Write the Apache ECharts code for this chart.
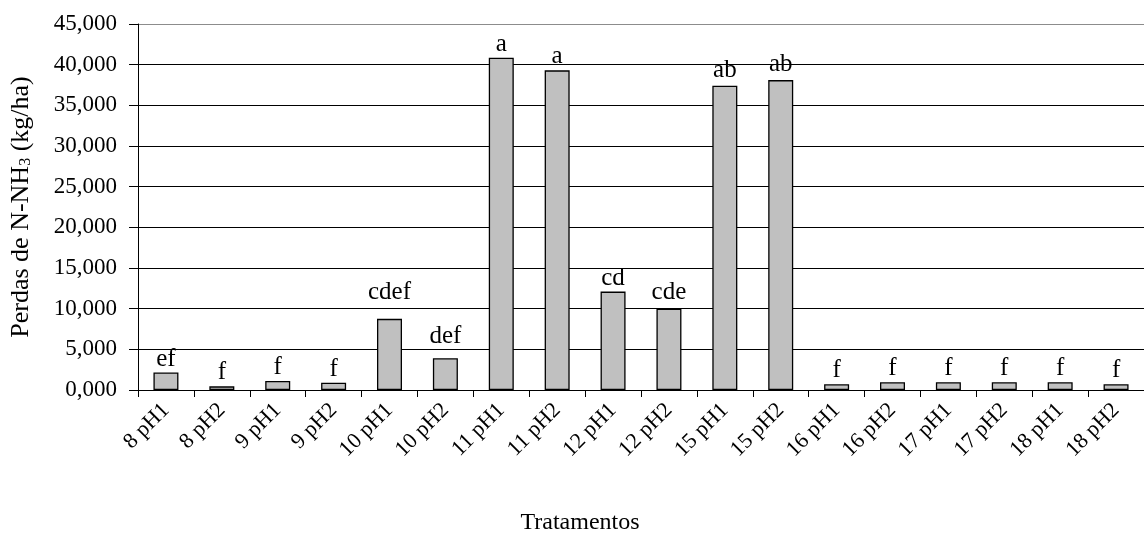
<!DOCTYPE html>
<html>
<head>
<meta charset="utf-8">
<script src="https://cdn.jsdelivr.net/npm/echarts@6/dist/echarts.min.js"></script>
<style>
html,body{margin:0;padding:0;background:#fff;}
#chart{width:1144px;height:534px;}
</style>
</head>
<body>
<div id="chart"></div>
<script>
// ---- data ----
const categories = ['8 pH1','8 pH2','9 pH1','9 pH2','10 pH1','10 pH2','11 pH1','11 pH2','12 pH1','12 pH2','15 pH1','15 pH2','16 pH1','16 pH2','17 pH1','17 pH2','18 pH1','18 pH2'];
const losses = [2.15, 0.45, 1.1, 0.9, 8.75, 3.9, 40.85, 39.3, 12.1, 10.0, 37.4, 38.1, 0.7, 0.95, 0.95, 0.95, 0.95, 0.7];
const letters = ['ef','f','f','f','cdef','def','a','a','cd','cde','ab','ab','f','f','f','f','f','f'];
const yTickLabels = ['0,000','5,000','10,000','15,000','20,000','25,000','30,000','35,000','40,000','45,000'];
const yAxisTitle = 'Perdas de N-NH';
const yAxisTitleSub = '3';
const yAxisTitleEnd = ' (kg/ha)';
const xAxisTitle = 'Tratamentos';

// ---- chart ----
const FONT = '"Liberation Serif", "Times New Roman", serif';
const labelDistance = {4: 14, 5: 9, 9: 4, 10: 3, 11: 3};
const gridColors = yTickLabels.map((_, i) => i === yTickLabels.length - 1 ? '#8c8c8c' : '#000');

const chart = echarts.init(document.getElementById('chart'), null, {renderer: 'canvas'});
chart.setOption({
  animation: false,
  backgroundColor: '#fff',
  textStyle: {fontFamily: FONT, color: '#000'},
  title: {
    text: xAxisTitle, left: 580, top: 511, textAlign: 'center', padding: 0,
    textStyle: {fontFamily: FONT, fontSize: 24, fontWeight: 'normal', color: '#000'}
  },
  grid: {left: 138, right: -6, top: 24, bottom: 144, containLabel: false},
  xAxis: {
    type: 'category',
    data: categories,
    axisLine: {lineStyle: {color: '#000', width: 1}},
    axisTick: {show: true, length: 7, lineStyle: {color: '#000'}, alignWithLabel: false},
    axisLabel: {rotate: 45, interval: 0, margin: 17, fontSize: 22, fontFamily: FONT, color: '#000'},
    splitLine: {show: false}
  },
  yAxis: {
    type: 'value',
    min: 0, max: 45, interval: 5,
    name: [yAxisTitle, '{s|' + yAxisTitleSub + '}', yAxisTitleEnd].join(''),
    nameLocation: 'middle',
    nameGap: 104,
    nameRotate: 90,
    nameTextStyle: {
      fontFamily: FONT, fontSize: 26, color: '#000',
      rich: {s: {fontFamily: FONT, fontSize: 16, color: '#000', padding: [9, 0, 0, 0]}}
    },
    axisLine: {show: true, lineStyle: {color: '#000', width: 1}},
    axisTick: {show: true, length: 9, lineStyle: {color: '#000'}},
    axisLabel: {
      margin: 21, fontSize: 23, fontFamily: FONT, color: '#000',
      formatter: (v) => yTickLabels[Math.round(v / 5)]
    },
    splitLine: {show: true, lineStyle: {color: gridColors, width: 1}}
  },
  series: [{
    type: 'bar',
    data: losses.map((v, i) => ({
      value: v,
      label: {distance: labelDistance[i] !== undefined ? labelDistance[i] : 1}
    })),
    barWidth: 25,
    itemStyle: {color: '#c0c0c0', borderColor: '#000', borderWidth: 1.3},
    label: {
      show: true, position: 'top', fontSize: 25, fontFamily: FONT, color: '#000',
      formatter: (p) => letters[p.dataIndex]
    }
  }]
});
</script>
</body>
</html>
